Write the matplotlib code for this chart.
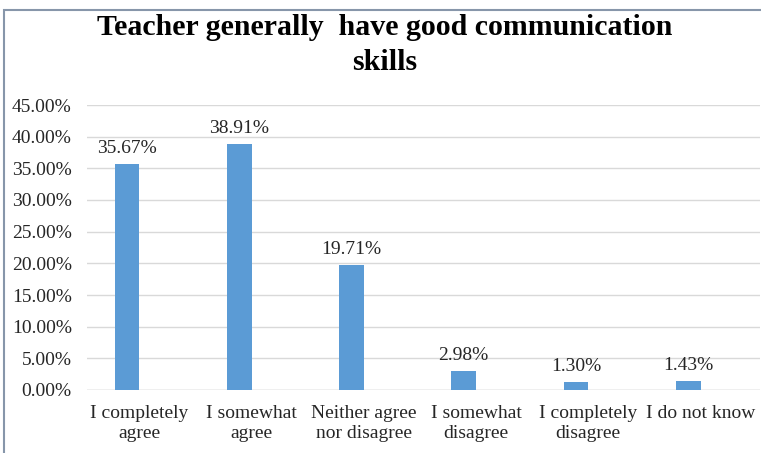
import matplotlib.pyplot as plt
from matplotlib.patches import Rectangle
from matplotlib.ticker import PercentFormatter
import numpy as np

categories = ['I completely\nagree', 'I somewhat\nagree', 'Neither agree\nnor disagree',
              'I somewhat\ndisagree', 'I completely\ndisagree', 'I do not know']
values = [35.67, 38.91, 19.71, 2.98, 1.30, 1.43]

plt.rcParams['font.family'] = ['Liberation Serif', 'DejaVu Serif']

fig = plt.figure(figsize=(7.61, 4.53), dpi=100)
ax = fig.add_axes([87 / 761, 1 - 390 / 453, 673 / 761, 285 / 453])

x = np.arange(len(categories))
ax.bar(x, values, width=0.22, color='#5b9bd5', zorder=3)
for xi, v in zip(x, values):
    ax.annotate(f'{v:.2f}%', (xi, v), xytext=(0, 5), textcoords='offset points',
                ha='center', va='bottom', fontsize=14, color='#262626')

ax.set_xlim(-0.357, 5.64)
ax.set_ylim(0, 45)
ax.set_yticks(np.arange(0, 46, 5))
ax.yaxis.set_major_formatter(PercentFormatter(decimals=2))
ax.set_xticks(x + 0.11)
ax.set_xticklabels(categories, fontsize=14, color='#262626', linespacing=1.2)
ax.tick_params(axis='y', labelsize=14, labelcolor='#262626', length=0, pad=11)
ax.tick_params(axis='x', length=0, pad=11)
ax.grid(axis='y', color='#d9d9d9', linewidth=1, zorder=0)
for s in ax.spines.values():
    s.set_visible(False)
ax.axhline(0, color='#d0d0d0', linewidth=1, zorder=2)

fig.text(0.506, 1 - 45 / 453, 'Teacher generally  have good communication\nskills',
         ha='center', va='center', fontsize=21.5, fontweight='bold', linespacing=1.4)

fig.patches.append(Rectangle((4 / 761, -0.1), 1.2, 1 - 10 / 453 + 0.1, transform=fig.transFigure,
                             fill=False, edgecolor='#8796aa', linewidth=1.5))

fig.savefig('out.png', dpi=100)
